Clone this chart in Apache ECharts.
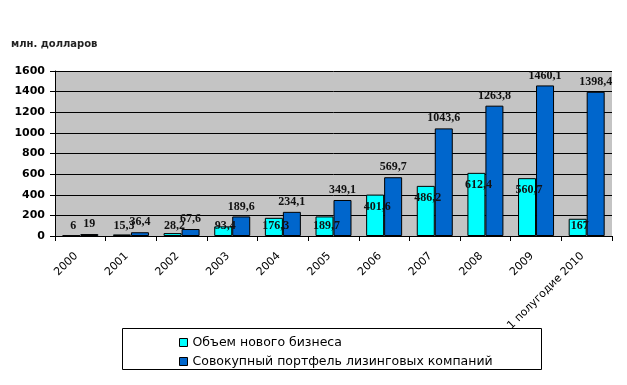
<!DOCTYPE html>
<html><head><meta charset="utf-8">
<script src="https://cdn.jsdelivr.net/npm/echarts@6/dist/echarts.min.js"></script>
<style>html,body{margin:0;padding:0;background:#fff}#c{width:627px;height:385px}</style>
</head><body><div id="c"></div>
<script>
var categories = ['2000','2001','2002','2003','2004','2005','2006','2007','2008','2009','1 полугодие 2010'];
var newBusiness = [6, 15.3, 28.2, 93.4, 176.3, 189.7, 401.6, 486.2, 612.4, 560.7, 167];
var portfolio = [19, 36.4, 67.6, 189.6, 234.1, 349.1, 569.7, 1043.6, 1263.8, 1460.1, 1398.4];
var yTicks = [0, 200, 400, 600, 800, 1000, 1200, 1400, 1600];
var seriesNames = ['Объем нового бизнеса', 'Совокупный портфель лизинговых компаний'];

function fmt(v){ return String(v).replace('.', ','); }
var chart = echarts.init(document.getElementById('c'), null, {renderer:'canvas'});
var labelFont = {fontFamily:'Liberation Serif', fontWeight:'bold', fontSize:12, color:'#111'};
function buildOption(cyanData){
  return {
    animation:false,
    backgroundColor:'#fff',
    title:{text:'млн. долларов', left:6, top:34, textStyle:{fontFamily:'DejaVu Sans', fontSize:10, fontWeight:'bold', color:'#222'}},
    grid:{left:55, right:15, top:71, bottom:149, show:true, backgroundColor:'#c4c4c4', borderWidth:0},
    legend:{orient:'vertical', left:174, top:331, itemWidth:8, itemHeight:8, itemGap:6, icon:'rect',
      data:seriesNames,
      textStyle:{fontFamily:'DejaVu Sans', fontSize:12.5, color:'#000'},
      itemStyle:{borderColor:'#000', borderWidth:1}},
    graphic:[{type:'rect', shape:{x:122.5, y:328.5, width:419, height:41}, style:{fill:'none', stroke:'#000', lineWidth:1}, z:-1}],
    xAxis:{type:'category', data:categories, boundaryGap:true,
      axisLine:{lineStyle:{color:'#000'}},
      axisTick:{show:true, alignWithLabel:false, length:5, lineStyle:{color:'#000'}},
      axisLabel:{rotate:45, interval:0, margin:14, padding:[0,6,0,0], fontFamily:'DejaVu Sans', fontSize:11, color:'#000'}},
    yAxis:{type:'value', min:yTicks[0], max:yTicks[yTicks.length-1], interval:200,
      axisLine:{show:true, lineStyle:{color:'#000'}},
      axisTick:{show:true, length:5, lineStyle:{color:'#000'}},
      splitLine:{show:true, lineStyle:{color:'#000', width:1}},
      axisLabel:{margin:10, fontFamily:'DejaVu Sans', fontSize:11, fontWeight:'bold', color:'#000', formatter:function(v){return String(v);}}},
    series:[
      {name:seriesNames[0], type:'bar', barWidth:18, barGap:'0%', data:cyanData,
        itemStyle:{color:'#00ffff', borderColor:'#000', borderWidth:1},
        label:Object.assign({show:true, position:'top', distance:0, formatter:function(p){return fmt(p.value);}}, labelFont)},
      {name:seriesNames[1], type:'bar', barWidth:18, barGap:'0%', data:portfolio,
        itemStyle:{color:'#0066cc', borderColor:'#000', borderWidth:1},
        label:Object.assign({show:true, position:'top', distance:4, formatter:function(p){return fmt(p.value);}}, labelFont)}
    ]
  };
}
chart.setOption(buildOption(newBusiness));
var y0 = chart.convertToPixel({yAxisIndex:0}, 0);
var floorY = y0 - 11;
var cyanItems = newBusiness.map(function(v){
  var top = chart.convertToPixel({yAxisIndex:0}, v);
  var wanted = Math.min(top + 11, floorY);
  var dy = wanted - (top - 7);
  return {value:v, label:{offset:[2, dy]}};
});
chart.setOption({series:[{data:cyanItems}]});
</script></body></html>
